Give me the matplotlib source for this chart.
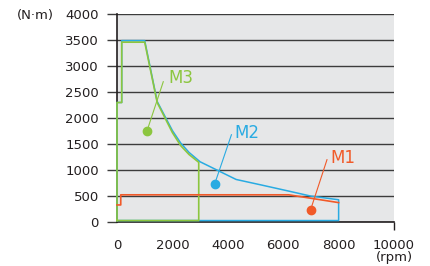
import numpy as np
import matplotlib.pyplot as plt

# Curvas de torque (rpm, N·m)
m1_rpm = [0, 135, 135, 6200, 8000]
m1_nm = [330, 330, 525, 525, 375]

m2_rpm = [0, 0, 170, 170, 1000, 1450, 2000, 2300, 2600, 3000, 4300, 5200, 6000, 7000, 8000, 8000, 0]
m2_nm = [30, 2300, 2300, 3490, 3490, 2320, 1760, 1520, 1340, 1160, 820, 715, 620, 500, 430, 30, 30]

m3_rpm = [0, 0, 170, 170, 1000, 1450, 2000, 2300, 2600, 2950, 2950, 0]
m3_nm = [30, 2300, 2300, 3460, 3460, 2300, 1720, 1470, 1300, 1150, 30, 30]

# Rótulos: (texto, ponto, topo do traço, posição do texto)
rotulos = [
    ('M1', (6990, 240), (7580, 1200), (7710, 1235)),
    ('M2', (3530, 740), (4130, 1680), (4220, 1715)),
    ('M3', (1080, 1750), (1670, 2700), (1840, 2770)),
]

verde = '#8cc63f'
azul = '#29abe2'
laranja = '#f15a29'
cores = {'M1': laranja, 'M2': azul, 'M3': verde}

fig = plt.figure(figsize=(4.31, 2.66), dpi=100)
ax = fig.add_axes([0.2715, 0.165, 0.6427, 0.782])
ax.set_facecolor('#e6e7e8')

ax.plot(m2_rpm, m2_nm, color=azul, lw=1.1, zorder=3, clip_on=False)
ax.plot(m3_rpm, m3_nm, color=verde, lw=1.2, zorder=4, clip_on=False)
ax.plot(m1_rpm, m1_nm, color=laranja, lw=1.2, zorder=5, clip_on=False)

for nome, ponto, topo, pos in rotulos:
    c = cores[nome]
    ax.plot([ponto[0], topo[0]], [ponto[1], topo[1]], color=c, lw=0.8, zorder=6)
    ax.plot(ponto[0], ponto[1], 'o', color=c, ms=6, zorder=7)
    ax.text(pos[0], pos[1], nome, color=c, fontsize=12, ha='left', va='center', zorder=7)

ax.set_xlim(0, 10000)
ax.set_ylim(0, 4000)
ax.set_xticks(np.arange(0, 10001, 2000))
ax.set_yticks(np.arange(0, 4001, 500))
ax.grid(axis='y', color='#3c3c3c', lw=1.0)
ax.set_axisbelow(True)

for lado in ['top', 'right']:
    ax.spines[lado].set_visible(False)
ax.spines['left'].set_color('#231f20')
ax.spines['bottom'].set_color('#231f20')
ax.spines['left'].set_linewidth(1.2)
ax.spines['bottom'].set_linewidth(1.2)

ax.tick_params(axis='y', length=7, width=1.0, color='#3c3c3c', pad=6,
               labelsize=9.5, labelcolor='#231f20')
ax.tick_params(axis='x', length=6, width=1.0, color='#231f20', pad=6,
               labelsize=9.5, labelcolor='#231f20')
for t in ax.xaxis.get_major_ticks()[:-1]:
    t.tick1line.set_visible(False)

fig.text(17 / 431, 1 - 15 / 266, '(N·m)', fontsize=9.5, color='#231f20', ha='left', va='center')
fig.text(394 / 431, 1 - 258 / 266, '(rpm)', fontsize=9.5, color='#231f20', ha='center', va='center')

fig.savefig('out.png', dpi=100)
